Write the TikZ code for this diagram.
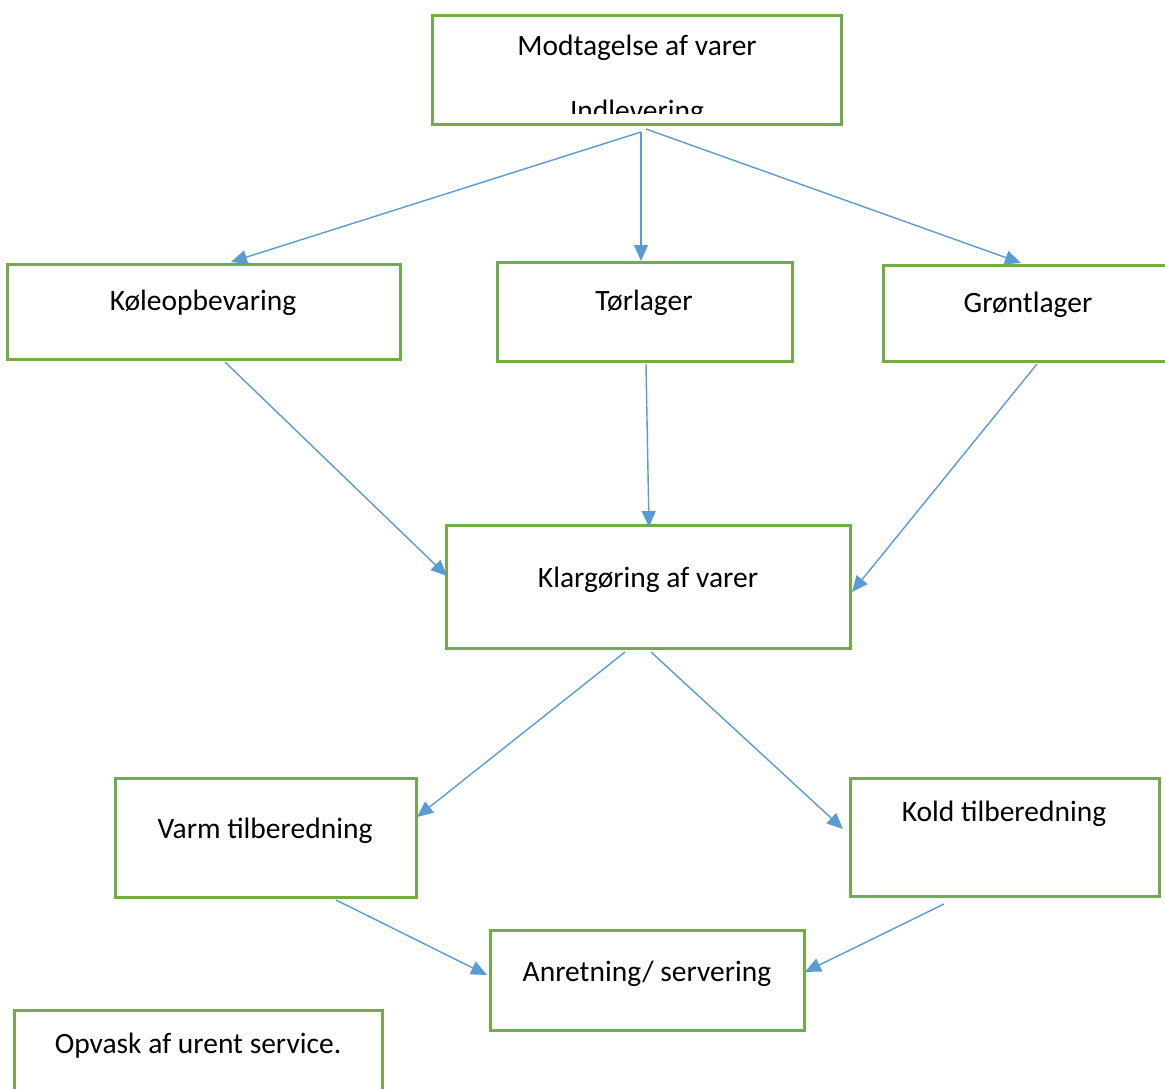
\documentclass[tikz,border=0pt]{standalone}
\usepackage{fontspec}
\setmainfont{Carlito}
\usetikzlibrary{arrows.meta}
\definecolor{boxgreen}{HTML}{70AD47}
\definecolor{arrowblue}{HTML}{5B9BD5}
\tikzset{
  box/.style={draw=boxgreen, line width=3pt, inner sep=0pt},
  lbl/.style={anchor=base, inner sep=0pt, font=\fontsize{29.5}{35}\selectfont},
  flow/.style={draw=arrowblue, line width=1.4pt, -{Triangle[length=16pt,width=14pt]}}
}
\begin{document}
\begin{tikzpicture}[x=1pt,y=-1pt]
\clip (0,0) rectangle (1165,1088);
\fill[white] (0,0) rectangle (1165,1088);
% boxes
\node[box, minimum width=409pt, minimum height=109pt] (top) at (636.5,69.5) {};
\node[box, minimum width=393pt, minimum height=95pt] (kol) at (203.5,311.5) {};
\node[box, minimum width=295pt, minimum height=99pt] (tor) at (644.5,311.5) {};
\node[box, minimum width=300pt, minimum height=96pt] (gron) at (1033,313) {};
\node[box, minimum width=404pt, minimum height=123pt] (klar) at (648,586.5) {};
\node[box, minimum width=301pt, minimum height=119pt] (varm) at (265.5,837.5) {};
\node[box, minimum width=309pt, minimum height=118pt] (kold) at (1004.5,837) {};
\node[box, minimum width=314pt, minimum height=100pt] (anr) at (647,980) {};
\node[box, minimum width=368pt, minimum height=110pt] (opv) at (198,1065) {};
% labels
\node[lbl] (tTop) at (637,55) {Modtagelse af varer};
\begin{scope}
\clip (433,16) rectangle (840,113);
\node[lbl] (tInd) at (637,120) {Indlevering};
\end{scope}
\node[lbl] (tKol) at (203,310) {Køleopbevaring};
\node[lbl] (tTor) at (644,310) {Tørlager};
\node[lbl] (tGron) at (1028,312) {Grøntlager};
\node[lbl] (tKlar) at (648,587) {Klargøring af varer};
\node[lbl] (tVarm) at (265,838) {Varm tilberedning};
\node[lbl] (tKold) at (1004,821) {Kold tilberedning};
\node[lbl] (tAnr) at (647,981) {Anretning/ servering};
\node[lbl] (tOpv) at (198,1053) {Opvask af urent service.};
% connector end points
\coordinate (s1) at (641,132);
\coordinate (s2) at (646,129);
\coordinate (e1) at (231,262);
\coordinate (e2) at (641,261);
\coordinate (e3) at (1021,263);
\coordinate (k1) at (225,362);
\coordinate (k2) at (646,364);
\coordinate (k3) at (1037,364);
\coordinate (ke1) at (447,576);
\coordinate (ke2) at (649,527);
\coordinate (ke3) at (852,592);
\coordinate (v1) at (625,652);
\coordinate (v2) at (651,652);
\coordinate (ve1) at (417,817);
\coordinate (ve2) at (843,829);
\coordinate (a1) at (336,900);
\coordinate (a2) at (944,904);
\coordinate (ae1) at (487,975);
\coordinate (ae2) at (805,972);
% connectors
\draw[flow] (s1) -- (e1);
\draw[flow] (s1) -- (e2);
\draw[flow] (s2) -- (e3);
\draw[flow] (k1) -- (ke1);
\draw[flow] (k2) -- (ke2);
\draw[flow] (k3) -- (ke3);
\draw[flow] (v1) -- (ve1);
\draw[flow] (v2) -- (ve2);
\draw[flow] (a1) -- (ae1);
\draw[flow] (a2) -- (ae2);
\end{tikzpicture}
\end{document}
